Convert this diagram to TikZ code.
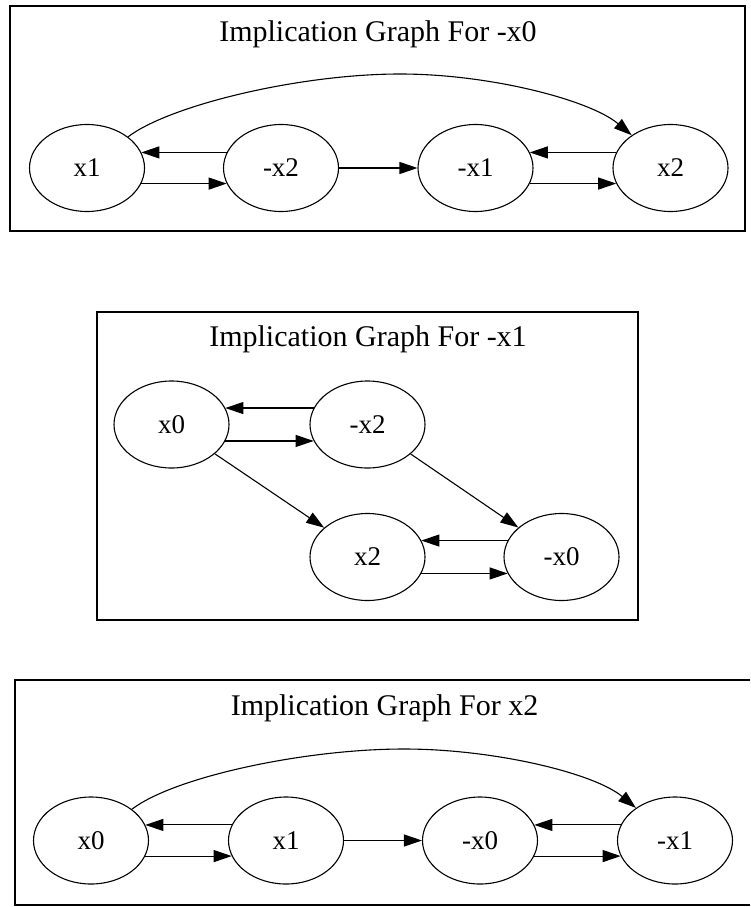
\documentclass[tikz,border=0pt]{standalone}
\usepackage{fontspec}
\setmainfont{Liberation Serif}
\usetikzlibrary{shapes.geometric,arrows.meta}
\newcommand{\nodefnt}{\fontsize{27}{30}\selectfont}
\newcommand{\titlefnt}{\fontsize{30}{36}\selectfont}
\tikzset{
  vnode/.style={draw, ellipse, minimum width=115pt, minimum height=87pt, inner sep=0pt, line width=1.1pt, font=\nodefnt},
  arr/.style={-{Triangle[length=18pt,width=12pt]}, line width=1.1pt},
  frame/.style={draw, line width=1.7pt},
  ttl/.style={anchor=base, font=\titlefnt, inner sep=0pt}
}
\begin{document}
\begin{tikzpicture}[x=1pt,y=-1pt]
\useasboundingbox[fill=white] (0,0) rectangle (750,907);

% ---------- Box 1 ----------
\draw[frame] (10,6) rectangle (745,231);
\node[ttl] (t1) at (378,42) {Implication Graph For -x0};
\node[vnode] (a1) at (87,168) {x1};
\node[vnode] (a2) at (281,168) {-x2};
\node[vnode] (a3) at (475.5,168) {-x1};
\node[vnode] (a4) at (670.5,168) {x2};
\draw[arr] (a2.164) -- (a1.16);
\draw[arr] (a1.-16) -- (a2.196);
\draw[arr] (a2) -- (a3);
\draw[arr] (a4.164) -- (a3.16);
\draw[arr] (a3.-16) -- (a4.196);
\draw[arr] (a1) .. controls (170,105) and (300,74) .. (400,74)
  .. controls (490,74) and (590,100) .. (a4);

% ---------- Box 2 ----------
\draw[frame] (97,312) rectangle (638,620);
\node[ttl] (t2) at (368,346.5) {Implication Graph For -x1};
\node[vnode] (b1) at (171.5,424.5) {x0};
\node[vnode] (b2) at (367.5,424.5) {-x2};
\node[vnode] (b3) at (367.5,557) {x2};
\node[vnode] (b4) at (561.5,557) {-x0};
\draw[arr] (b2.163) -- (b1.17);
\draw[arr] (b1.-17) -- (b2.197);
\draw[arr] (b1) -- (b3);
\draw[arr] (b2) -- (b4);
\draw[arr] (b4.163) -- (b3.17);
\draw[arr] (b3.-17) -- (b4.197);

% ---------- Box 3 ----------
\draw[frame] (750,680) -- (15,680) -- (15,905) -- (750,905);
\node[ttl] (t3) at (384.5,715) {Implication Graph For x2};
\node[vnode] (c1) at (91,840.5) {x0};
\node[vnode] (c2) at (286,840.5) {x1};
\node[vnode] (c3) at (480,840.5) {-x0};
\node[vnode] (c4) at (675,840.5) {-x1};
\draw[arr] (c2.164) -- (c1.16);
\draw[arr] (c1.-16) -- (c2.196);
\draw[arr] (c2) -- (c3);
\draw[arr] (c4.164) -- (c3.16);
\draw[arr] (c3.-16) -- (c4.196);
\draw[arr] (c1) .. controls (174,777) and (304,749) .. (404,749)
  .. controls (494,749) and (594,773) .. (c4);
\end{tikzpicture}
\end{document}
